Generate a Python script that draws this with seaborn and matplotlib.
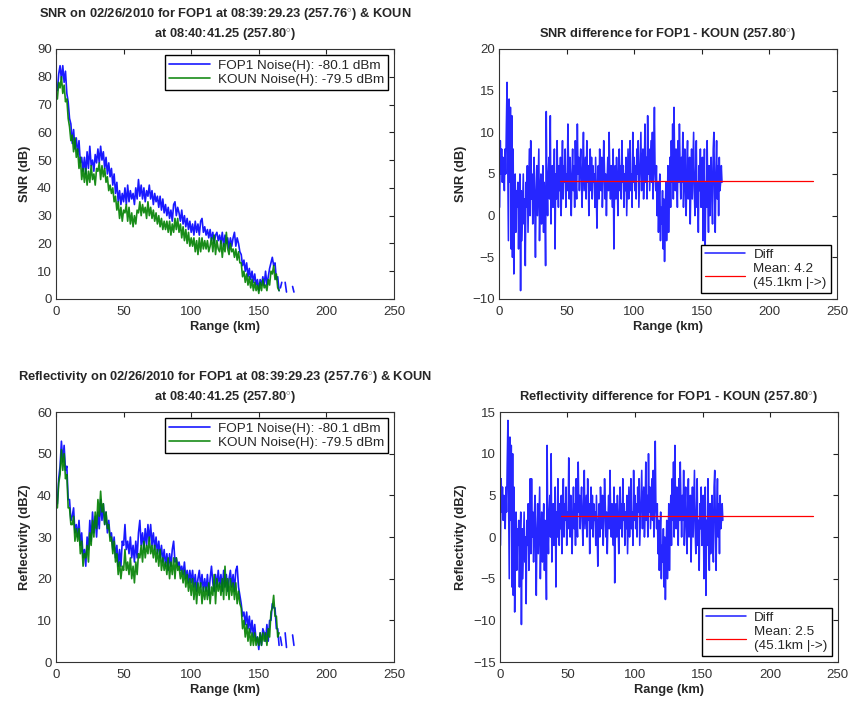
#!/usr/bin/env python3
"""FOP1 vs KOUN radial profiles (SNR and reflectivity) with their differences."""

import matplotlib

matplotlib.use("Agg")
import matplotlib.pyplot as plt
import numpy as np
import pandas as pd
import seaborn as sns


# range gates of the profiles (km)
RANGE_KM = list(range(1, 166))

FOP1_SNR = [
    75, 81, 84, 79, 84, 78, 82, 74, 71, 65,
    63, 56, 61, 54, 58, 52, 57, 49, 51, 46,
    51, 45, 53, 47, 55, 48, 50, 46, 52, 49,
    54, 49, 55, 50, 53, 47, 51, 45, 49, 44,
    47, 41, 45, 38, 42, 35, 39, 34, 38, 35,
    40, 34, 41, 35, 39, 36, 38, 34, 40, 36,
    43, 37, 41, 36, 40, 35, 39, 37, 41, 36,
    39, 34, 38, 35, 37, 33, 37, 32, 36, 31,
    34, 30, 33, 29, 32, 28, 34, 35, 30, 33,
    31, 28, 32, 27, 30, 26, 29, 25, 28, 24,
    27, 23, 28, 24, 27, 23, 28, 29, 24, 26,
    23, 25, 22, 25, 21, 24, 20, 23, 24, 21,
    23, 20, 24, 19, 23, 20, 22, 18, 22, 19,
    22, 24, 19, 22, 20, 17, 16, 12, 14, 10,
    13, 8, 11, 7, 10, 6, 9, 5, 7, 3,
    7, 5, 8, 5, 10, 5, 8, 11, 13, 15,
    12, 13, 7, 8, 3,
]

KOUN_SNR = [
    72, 78, 76, 80, 74, 77, 71, 72, 65, 62,
    57, 59, 53, 58, 51, 54, 47, 51, 43, 47,
    42, 47, 41, 46, 42, 48, 43, 45, 41, 47,
    46, 49, 43, 48, 44, 47, 42, 44, 39, 41,
    38, 40, 35, 37, 32, 35, 29, 33, 28, 32,
    31, 34, 28, 33, 27, 31, 26, 30, 27, 32,
    31, 35, 30, 34, 31, 33, 29, 35, 30, 33,
    29, 32, 28, 31, 27, 30, 26, 29, 25, 28,
    25, 28, 24, 28, 23, 27, 24, 29, 25, 29,
    24, 27, 22, 26, 21, 25, 20, 24, 19, 22,
    19, 22, 17, 21, 16, 22, 17, 22, 18, 21,
    18, 21, 17, 19, 22, 17, 23, 16, 21, 18,
    17, 21, 15, 20, 17, 24, 18, 16, 20, 17,
    18, 15, 18, 14, 17, 13, 13, 8, 10, 6,
    9, 5, 8, 4, 7, 3, 6, 3, 5, 2,
    6, 3, 7, 4, 5, 3, 7, 5, 10, 9,
    12, 7, 9, 4, 3,
]

FOP1_REFL = [
    38, 44, 47, 53, 48, 52, 46, 47, 39, 39,
    34, 35, 37, 31, 33, 30, 34, 28, 31, 25,
    27, 23, 30, 27, 34, 29, 36, 31, 35, 30,
    36, 32, 39, 34, 38, 33, 36, 31, 34, 30,
    31, 27, 30, 25, 28, 23, 27, 23, 29, 28,
    33, 27, 29, 26, 30, 25, 28, 24, 29, 25,
    31, 34, 28, 31, 27, 32, 28, 33, 29, 33,
    28, 31, 27, 30, 26, 29, 25, 28, 24, 27,
    23, 26, 22, 26, 23, 27, 29, 24, 25, 23,
    24, 22, 23, 21, 24, 20, 22, 19, 22, 19,
    22, 18, 21, 17, 20, 22, 18, 21, 17, 20,
    17, 21, 16, 20, 23, 19, 17, 21, 18, 22,
    18, 21, 17, 22, 18, 21, 17, 20, 22, 18,
    21, 17, 22, 23, 18, 16, 14, 11, 12, 9,
    12, 8, 11, 7, 10, 6, 9, 5, 6, 3,
    7, 4, 8, 7, 5, 9, 5, 10, 10, 14,
    13, 13, 8, 8, 4,
]

KOUN_REFL = [
    37, 43, 45, 51, 46, 50, 44, 45, 37, 37,
    33, 33, 35, 29, 32, 29, 32, 26, 29, 23,
    26, 25, 28, 24, 31, 28, 34, 30, 36, 32,
    39, 35, 41, 36, 38, 33, 36, 32, 33, 29,
    30, 26, 29, 24, 26, 21, 24, 20, 23, 22,
    27, 22, 24, 21, 25, 20, 23, 19, 24, 21,
    26, 25, 28, 24, 29, 25, 28, 26, 30, 26,
    28, 25, 28, 24, 27, 23, 27, 22, 25, 22,
    24, 21, 25, 20, 24, 21, 25, 20, 25, 22,
    23, 20, 22, 19, 22, 18, 21, 17, 20, 16,
    20, 15, 19, 14, 19, 16, 19, 14, 18, 15,
    18, 15, 19, 14, 18, 16, 21, 14, 20, 17,
    19, 16, 20, 15, 23, 16, 20, 15, 20, 16,
    19, 15, 19, 14, 17, 14, 13, 8, 10, 6,
    9, 5, 8, 4, 7, 4, 7, 4, 6, 4,
    7, 4, 7, 5, 7, 4, 8, 6, 12, 13,
    16, 11, 11, 6, 7,
]

# a few isolated FOP1 gates past the end of the KOUN data
FOP1_TAIL_KM = [[166, 167], [169.5, 170.5], [175, 176]]
FOP1_TAIL_SNR = [[4, 6], [6, 2.5], [4.5, 2.5]]
FOP1_TAIL_REFL = [[6, 4], [7, 3.5], [6.5, 4]]

# difference profiles, 0.5 km gates
DIFF_KM = np.arange(1, 331) * 0.5

SNR_DIFF = [
    1, 9, 5, 8, 4, 7, 6, 3, 8, 5, 11, 16, 6, -3, 14, 4, 13, -4, 12, -5,
    8, -7, 2, 5, -2, 3, 1, 4, -4, 2, 5, -9, 3, -3, 1, 5, -1, 2, -6, 4,
    1, 6, -2, 3, 8, 0, 9, 2, 5, -1, 4, 7, 1, -5, 3, 6, 0, 4, 8, -3,
    2, 5, -1, 3, 6, -2, 4, 1, -6, 12.5, 3, 0, 5, 7, 2, 12, -1, 4, 6, 1,
    3, 8, -4, 5, 2, 9, 4, 1, 6, 3, 7, 0, 5, 9, 2, 6, 4, 8, 1, 5,
    3, 11, 6, 2, 7, 4, 0, 5, 8, 3, 6, 1, 9, 4, 2, 11, 5, 7, 3, 6,
    8, 4, 1, 6, 10, 3, 5, 7, 2, 9, 4, 6, 0, 5, 8, 3, 7, 2, 6, 4,
    5, 1, 7, 3, -1.5, 4, 6, 2, 8, 5, 3, 7, 1, 4, 9, 6, 2, 5, 0, 4,
    7, 3, 10, 5, 2, 6, 4, 1, 8, -4, 3, 6, 2, 7, 4, 0, 5, 8, 3, 6,
    2, 9, 4, 6, 1, 5, 3, 7, 0, 4, 8, 2, 6, 9, 3, 5, 1, 10, 4, 7,
    3, 6, 2, 8, 5, 9, 1, 4, 7, 10, 3, 6, 8, 2, 5, 11, 4, 7, 2, 12,
    5, 8, 3, 6, 9, 4, 10, 2, 7, 13, 5, 3, 6, 0, 4, -2, 2, 5, -3, 1,
    -1, 3, -4, 2, -5.5, 0, 4, -3, 1, 6, -2, 3, 7, 1, 9, 4, 11, 2, 13, 6,
    3, 8, 5, 1, 9, 4, 11, 6, 2, 7, 4, 10, 1, 5, 8, 3, 0, 6, 9, 2,
    5, 7, -1, 4, 8, 2, 6, 10, 3, 0, 5, 9, 1, 4, -2, 6, 3, 8, 1, 5,
    7, -3, 2, 8, -5, 4, 1, 9, 3, -2, 6, 0, 5, 7, 2, -1, 8, 10, 3, -2,
    5, 9, 2, 6, 0, 7, 3, 4, 6, 4,
]

REFL_DIFF = [
    -1, 7, 3, 6, 2, 5, 4, 1, 6, 3, 9, 14, 4, -5, 12, 2, 11, -6, 10, -7,
    6, -9, 0, 3, -4, 1, -1, 2, -6, 0, 3, -10.5, 1, -5, -1, 3, -3, 0, -8, 2,
    -1, 4, -4, 1, 7, -2, 7, 0, 3, -3, 2, 5, -1, -7, 1, 4, -2, 2, 6, -5,
    0, 3, -3, 1, 4, -4, 2, -1, -7.5, 11, 1, -2, 3, 5, 0, 10, -3, 2, 4, -1,
    1, 6, -6, 3, 0, 7, 2, -1, 4, 1, 5, -2, 3, 7, 0, 4, 2, 6, -1, 3,
    1, 9.5, 4, 0, 5, 2, -2, 3, 6, 1, 4, -1, 7, 2, 0, 9, 3, 5, 1, 4,
    6, 2, -1, 4, 8, 1, 3, 5, 0, 7, 2, 4, -2, 3, 6, 1, 5, 0, 4, 2,
    3, -1, 5, 1, -3.5, 2, 4, 0, 6, 3, 1, 5, -1, 2, 7, 4, 0, 3, -2, 2,
    5, 1, 8, 3, 0, 4, 2, -1, 6, -5.5, 1, 4, 0, 5, 2, -2, 3, 6, 1, 4,
    0, 7, 2, 4, -1, 3, 1, 5, -2, 2, 6, 0, 4, 7, 1, 3, -1, 8, 2, 5,
    1, 4, 0, 6, 3, 7, -1, 2, 5, 8, 1, 4, 6, 0, 3, 9, 2, 5, 0, 10,
    3, 6, 1, 4, 7, 2, 8, 0, 5, 11.5, 3, 1, 4, -2, 2, -4, 0, 3, -5, -1,
    -3, 1, -6, 0, -7.5, -2, 2, -5, -1, 4, -4, 1, 5, -1, 7, 2, 9, 0, 11, 4,
    1, 6, 3, -1, 7, 2, 9, 4, 0, 5, 2, 8, -1, 3, 6, 1, -2, 4, 7, 0,
    3, 5, -3, 2, 6, 0, 4, 8, 1, -2, 3, 7, -1, 2, -4, 4, 1, 6, -1, 3,
    5, -5, 0, 6, -7, 2, -1, 7, 1, -4, 4, -2, 3, 5, 0, -3, 6, 8, 1, -4,
    3, 7, 0, 4, -2, 5, 1, 2, 4, 2,
]

SNR_MEAN = 4.2
REFL_MEAN = 2.5
MEAN_KM = [45.1, 232]

FOP1_LABEL = "FOP1 Noise(H): -80.1 dBm"
KOUN_LABEL = "KOUN Noise(H): -79.5 dBm"

DEG = r"$^{\circ}$"
SNR_TITLE = (f"SNR on 02/26/2010 for FOP1 at 08:39:29.23 (257.76{DEG}) & KOUN\n"
             f"at 08:40:41.25 (257.80{DEG})")
REFL_TITLE = (f"Reflectivity on 02/26/2010 for FOP1 at 08:39:29.23 (257.76{DEG}) & KOUN\n"
              f"at 08:40:41.25 (257.80{DEG})")
SNR_DIFF_TITLE = f"SNR difference for FOP1 - KOUN (257.80{DEG})"
REFL_DIFF_TITLE = f"Reflectivity difference for FOP1 - KOUN (257.80{DEG})"

BLUE = "#0000ff"
GREEN = "#008000"
RED = "#ff0000"


def profile_frame(fop1, koun, tail_km, tail_vals):
    parts = [
        pd.DataFrame({"range": RANGE_KM, "value": fop1, "radar": FOP1_LABEL, "seg": 0}),
        pd.DataFrame({"range": RANGE_KM, "value": koun, "radar": KOUN_LABEL, "seg": 0}),
    ]
    for i, (km, vals) in enumerate(zip(tail_km, tail_vals), start=1):
        parts.append(pd.DataFrame({"range": km, "value": vals, "radar": FOP1_LABEL, "seg": i}))
    return pd.concat(parts, ignore_index=True)


def add_legend(ax, loc):
    ax.legend(loc=loc, fontsize=9.7, frameon=True, fancybox=False,
              edgecolor="black", framealpha=1, borderaxespad=0.45,
              handlelength=3.0, labelspacing=0.15, borderpad=0.3, handletextpad=0.6)


def style_axes(ax, ylim, yticks, ylabel, title):
    ax.set_xlim(0, 250)
    ax.set_xticks(range(0, 251, 50))
    ax.set_ylim(*ylim)
    ax.set_yticks(yticks)
    ax.set_xlabel("Range (km)", fontsize=9.3, fontweight="bold", labelpad=2)
    ax.set_ylabel(ylabel, fontsize=9.3, fontweight="bold", labelpad=4)
    ax.set_title(title, fontsize=9.3, fontweight="bold", pad=8, linespacing=1.3)
    ax.tick_params(direction="in", top=True, right=True, length=3.5, width=0.8,
                   labelsize=9.5, labelcolor="#333333", color="#222222")
    ax.tick_params(axis="x", pad=5)
    ax.tick_params(axis="y", pad=3)
    for sp in ax.spines.values():
        sp.set_color("#333333")
        sp.set_linewidth(0.8)


def draw_profile(ax, df, ylim, yticks, ylabel, title):
    sns.lineplot(data=df, x="range", y="value", hue="radar", units="seg",
                 estimator=None, sort=False,
                 hue_order=[FOP1_LABEL, KOUN_LABEL],
                 palette={FOP1_LABEL: BLUE, KOUN_LABEL: GREEN},
                 linewidth=1.2, alpha=0.9, ax=ax)
    handles, labels = ax.get_legend_handles_labels()
    ax.legend(handles, labels)
    add_legend(ax, "upper right")
    style_axes(ax, ylim, yticks, ylabel, title)


def draw_diff(ax, diff, mean, ylim, yticks, ylabel, title):
    sns.lineplot(x=DIFF_KM, y=diff, color=BLUE, linewidth=1.15, alpha=0.85,
                 estimator=None, sort=False, label="Diff", ax=ax)
    sns.lineplot(x=MEAN_KM, y=[mean, mean], color=RED, linewidth=0.9,
                 estimator=None, label=f"Mean: {mean}\n(45.1km |->)", ax=ax)
    add_legend(ax, "lower right")
    style_axes(ax, ylim, yticks, ylabel, title)


def main() -> None:
    sns.set_theme(style="white")
    plt.rcParams["font.family"] = ["Liberation Sans", "DejaVu Sans"]
    plt.rcParams["mathtext.fontset"] = "custom"
    plt.rcParams["mathtext.rm"] = "Liberation Sans"

    fig = plt.figure(figsize=(8.5, 7.01), dpi=100)
    ax_snr = fig.add_axes([0.0659, 0.5735, 0.3976, 0.3566])
    ax_snr_d = fig.add_axes([0.587, 0.5735, 0.3976, 0.3566])
    ax_z = fig.add_axes([0.0659, 0.0556, 0.3976, 0.3566])
    ax_z_d = fig.add_axes([0.588, 0.0556, 0.3976, 0.3566])

    snr_df = profile_frame(FOP1_SNR, KOUN_SNR, FOP1_TAIL_KM, FOP1_TAIL_SNR)
    refl_df = profile_frame(FOP1_REFL, KOUN_REFL, FOP1_TAIL_KM, FOP1_TAIL_REFL)

    draw_profile(ax_snr, snr_df, (0, 90), range(0, 91, 10), "SNR (dB)", SNR_TITLE)
    draw_diff(ax_snr_d, SNR_DIFF, SNR_MEAN, (-10, 20), range(-10, 21, 5),
              "SNR (dB)", SNR_DIFF_TITLE)
    draw_profile(ax_z, refl_df, (0, 60), range(0, 61, 10), "Reflectivity (dBZ)", REFL_TITLE)
    draw_diff(ax_z_d, REFL_DIFF, REFL_MEAN, (-15, 15), range(-15, 16, 5),
              "Reflectivity (dBZ)", REFL_DIFF_TITLE)

    fig.savefig("out.png", dpi=100)


if __name__ == "__main__":
    main()
